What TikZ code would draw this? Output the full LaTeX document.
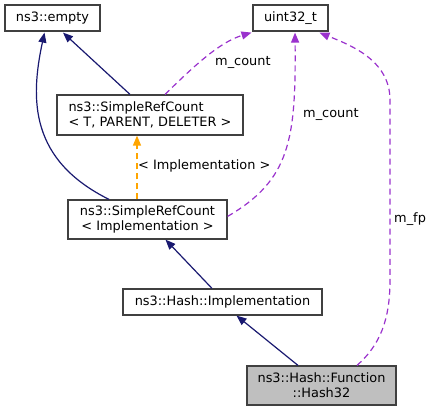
\documentclass[tikz,border=0pt]{standalone}
\usepackage{fontspec}
\setmainfont{DejaVu Sans}
\usetikzlibrary{arrows.meta}
\definecolor{navy}{HTML}{191970}
\definecolor{purp}{HTML}{9A32CD}
\definecolor{orng}{HTML}{FFA500}
\definecolor{bord}{HTML}{404040}
\definecolor{fillg}{HTML}{BFBFBF}
\begin{document}
\begin{tikzpicture}[x=1pt,y=-1pt,
  box/.style={draw=bord,line width=1.2pt,inner sep=0pt,font=\fontsize{12.9}{15}\selectfont,align=center},
  inh/.style={draw=navy,line width=1.2pt,-{Triangle[length=10pt,width=8pt]}},
  usg/.style={draw=purp,line width=1.2pt,dash pattern=on 6pt off 4pt,-{Triangle[length=10pt,width=8pt]}},
  tpl/.style={draw=orng,line width=1.4pt,dash pattern=on 6pt off 4pt,-{Triangle[length=10pt,width=8pt]}},
  lbl/.style={font=\fontsize{12.9}{15}\selectfont,inner sep=0pt,anchor=west}]
\useasboundingbox (0,0) rectangle (433,412);
\node[box,minimum width=95pt,minimum height=26pt] (empty) at (52.5,18) {ns3::empty};
\node[box,minimum width=75pt,minimum height=26pt] (uint) at (290.5,18) {uint32\_t};
\node[box,minimum width=186pt,minimum height=40pt,align=left] (srct) at (150,115) {ns3::SimpleRefCount\\< T, PARENT, DELETER >};
\node[box,minimum width=159pt,minimum height=39pt] (srci) at (147.5,219.5) {ns3::SimpleRefCount\\< Implementation >};
\node[box,minimum width=199pt,minimum height=26pt] (impl) at (222.5,302) {ns3::Hash::Implementation};
\node[box,minimum width=149pt,minimum height=39pt,fill=fillg] (h32) at (321.5,385.5) {ns3::Hash::Function\\::Hash32};
% inheritance
\draw[inh] ([xshift=-20pt]srct.north) -- ([xshift=10.5pt,yshift=-1pt]empty.south);
\draw[inh] ([xshift=-38.5pt]srci.north) .. controls (30,160) and (30,100) .. ([xshift=-8pt,yshift=-1pt]empty.south);
\draw[inh] ([xshift=-10.5pt]impl.north) -- ([xshift=18pt]srci.south);
\draw[inh] ([xshift=-23.5pt]h32.north) -- ([xshift=14pt]impl.south);
% template
\draw[tpl] ([xshift=-10.5pt]srci.north) -- ([xshift=-13pt]srct.south);
\node[lbl] (ltpl) at (138,166) {< Implementation >};
% usage
\draw[usg] ([xshift=15pt]srct.north) .. controls (195,65) and (220,42) .. ([xshift=-39pt,yshift=-1pt]uint.south);
\node[lbl] (l1) at (215,62) {m\_count};
\draw[usg] ([yshift=-17pt]srci.north east) .. controls (290,180) and (296,140) .. ([xshift=4.5pt,yshift=-1pt]uint.south);
\node[lbl] (l2) at (303,114) {m\_count};
\draw[usg] ([xshift=35.5pt]h32.north) .. controls (380,345) and (390,320) .. (390,280) -- (390,100) .. controls (390,60) and (350,45) .. ([xshift=29pt,yshift=-1pt]uint.south);
\node[lbl] (l3) at (394,219) {m\_fp};
\end{tikzpicture}
\end{document}
